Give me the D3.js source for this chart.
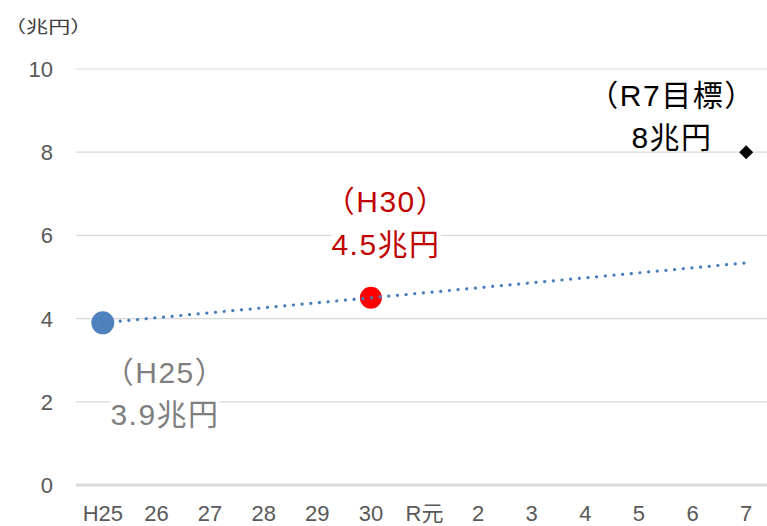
<!DOCTYPE html>
<html><head><meta charset="utf-8">
<script src="https://cdn.jsdelivr.net/npm/d3@7"></script>
<style>
html,body{margin:0;padding:0;background:#fff;}
svg{display:block;font-family:"Liberation Sans",Arial,"Noto Sans CJK JP",sans-serif;}
</style></head><body>
<svg id="c" width="767" height="526"></svg>
<script>
const categories = ["H25","26","27","28","29","30","R元","2","3","4","5","6","7"];
const yTicks = [0,2,4,6,8,10];
const pointH25 = {cat:"H25", value:3.9};
const pointH30 = {cat:"30", value:4.5};
const pointR7 = {cat:"7", value:8};
const trendCats = ["H25","7"];
const trendValues = [3.9, 5.34];
const labelH25 = ["（H25）","3.9兆円"];
const labelH30 = ["（H30）","4.5兆円"];
const labelR7 = ["（R7目標）","8兆円"];
const unitLabel = "（兆円）";

const svg = d3.select("#c");
const x = d3.scaleBand().domain(categories).range([76, 773]).padding(0);
const cx = c => x(c) + x.bandwidth()/2;
const y = d3.scaleLinear().domain([0,10]).range([485, 69]);

// gridlines
svg.append("g").selectAll("line").data(yTicks.filter(d=>d>0)).join("line")
  .attr("x1",76).attr("x2",767).attr("y1",d=>y(d)).attr("y2",d=>y(d))
  .attr("stroke","#d9d9d9").attr("stroke-width",1.2);
// axis line
svg.append("line").attr("x1",76).attr("x2",767).attr("y1",y(0)).attr("y2",y(0))
  .attr("stroke","#d9d9d9").attr("stroke-width",3);

// y tick labels
svg.append("g").selectAll("text").data(yTicks).join("text")
  .attr("x",53).attr("y",d=>y(d)+8).attr("text-anchor","end")
  .attr("font-size",22).attr("fill","#595959").text(d=>d);

// x tick labels
svg.append("g").selectAll("text").data(categories).join("text")
  .attr("x",d=>cx(d)).attr("y",521).attr("text-anchor","middle")
  .attr("font-size",22).attr("fill","#595959").text(d=>d);

// unit label (horizontally stretched as in reference)
svg.append("text").attr("transform","translate(4,33) scale(1.3,1)")
  .attr("font-size",17).attr("fill","#404040").text(unitLabel);

// labels with white background
function label(lines, xc, baselines, color){
  const g = svg.append("g");
  const texts = lines.map((t,i)=> g.append("text").attr("x",xc).attr("y",baselines[i])
     .attr("text-anchor","middle").attr("font-size",30).attr("letter-spacing",1.5)
     .attr("fill",color).text(t));
  texts.forEach(t=>{
    const b = t.node().getBBox();
    g.insert("rect",":first-child").attr("x",b.x).attr("y",b.y+3).attr("width",b.width).attr("height",b.height-6).attr("fill","#fff");
  });
}
label(labelH25, 165, [383, 425], "#7f7f7f");
label(labelH30, 386, [212, 255], "#c00000");
label(labelR7, 672, [106, 148], "#000000");

const line = d3.line().x(d=>cx(d[0])).y(d=>y(d[1]));
// points
svg.append("circle").attr("cx",cx(pointH25.cat)).attr("cy",y(pointH25.value)).attr("r",11.5).attr("fill","#4f81bd");
svg.append("circle").attr("cx",cx(pointH30.cat)).attr("cy",y(pointH30.value)).attr("r",11).attr("fill","#ff0000");
svg.append("path").attr("d",d3.symbol().type(d3.symbolDiamond2).size(125)())
  .attr("transform",`translate(${cx(pointR7.cat)},${y(pointR7.value)})`).attr("fill","#000");
// trend line (dotted, drawn over the points as in reference)
svg.append("path").datum(trendCats.map((c,i)=>[c,trendValues[i]]))
  .attr("d",line).attr("fill","none").attr("stroke","#4a7ebb")
  .attr("stroke-width",3.2).attr("stroke-linecap","round").attr("stroke-dasharray","0.1 8.6");
</script></body></html>
